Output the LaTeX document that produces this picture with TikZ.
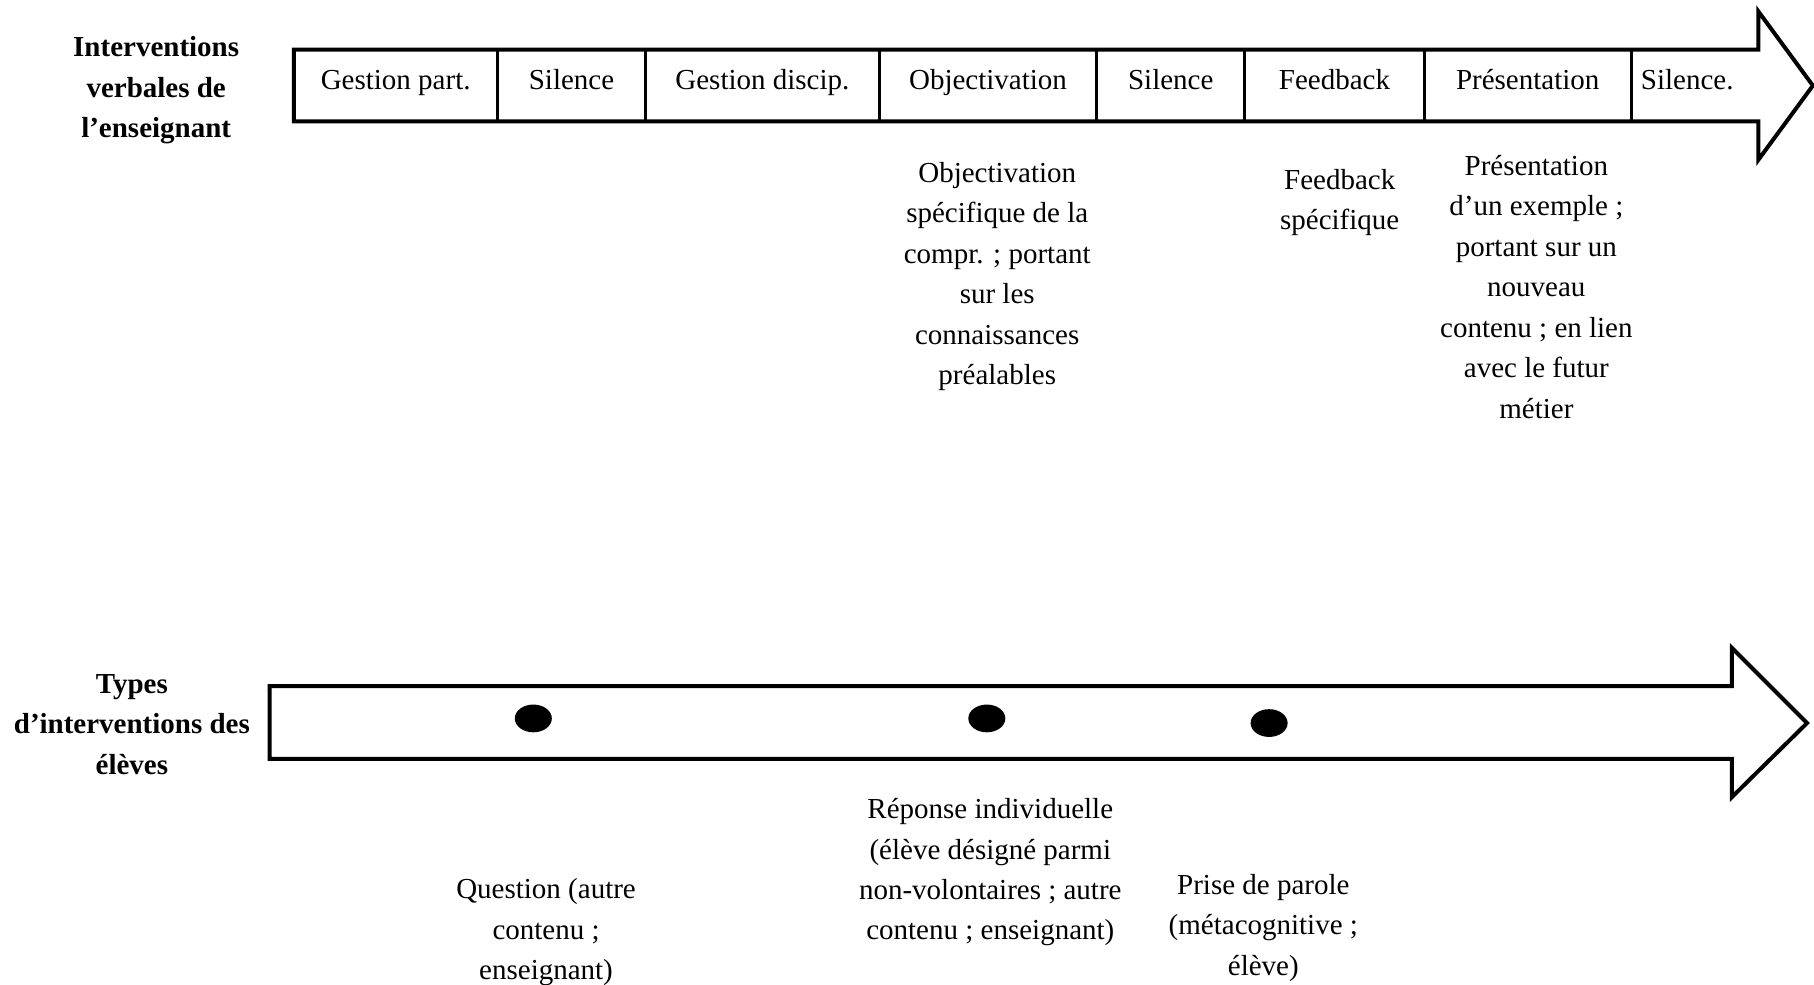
\documentclass[tikz,border=0pt]{standalone}
\usepackage{fontspec}
\setmainfont{Liberation Serif}
\usetikzlibrary{positioning,shapes.geometric}
\newcommand{\myunit}{0.5785pt}
\tikzset{
    txtsty/.style={font=\fontsize{14.5}{20.25}\selectfont,align=center,inner sep=0pt},
    headsty/.style={txtsty,font=\fontsize{14.5}{20.25}\selectfont\bfseries},
    cellsty/.style={draw,line width=1.5pt,rectangle,minimum height=62*\myunit,inner sep=0pt,outer sep=0pt,
                    text height=11.7pt,text depth=8.3pt,font=\fontsize{14.5}{20.25}\selectfont},
    arrsty/.style={draw,fill=white,line width=2pt,line join=miter},
    dotsty/.style={fill=black,ellipse,minimum width=32*\myunit,minimum height=24*\myunit,inner sep=0pt},
}

\begin{document}
\begin{tikzpicture}[x=\myunit,y=-\myunit]
  \useasboundingbox (0,0) rectangle (1568,851);

  % teacher arrow
  \draw[arrsty] (254,43) -- (1520,43) -- (1520,10) -- (1567,74) -- (1520,138) -- (1520,105) -- (254,105) -- cycle;
  \node[cellsty,minimum width=176*\myunit,anchor=west] (c1) at (254,74) {Gestion part.};
  \node[cellsty,minimum width=128*\myunit,right=0pt of c1] (c2) {Silence};
  \node[cellsty,minimum width=202*\myunit,right=0pt of c2] (c3) {Gestion discip.};
  \node[cellsty,minimum width=188*\myunit,right=0pt of c3] (c4) {Objectivation};
  \node[cellsty,minimum width=128*\myunit,right=0pt of c4] (c5) {Silence};
  \node[cellsty,minimum width=155*\myunit,right=0pt of c5] (c6) {Feedback};
  \node[cellsty,minimum width=179*\myunit,right=0pt of c6] (c7) {Présentation};
  \node[txtsty,anchor=west,text height=11.7pt,text depth=8.3pt] (c8) at (1418,74) {Silence.};

  \node[headsty] (ens) at (135,78) {Interventions\\verbales de\\l’enseignant};

  \node[txtsty] (objtxt) at (862,239) {Objectivation\\spécifique de la\\compr. ; portant\\sur les\\connaissances\\préalables};
  \node[txtsty] (fbtxt) at (1158,175) {Feedback\\spécifique};
  \node[txtsty] (prtxt) at (1328,248) {Présentation\\d’un exemple ;\\portant sur un\\nouveau\\contenu ; en lien\\avec le futur\\métier};

  % pupils arrow
  \draw[arrsty] (233,593) -- (1497,593) -- (1497,560) -- (1562,625) -- (1497,689) -- (1497,656) -- (233,656) -- cycle;
  \node[headsty] (elv) at (114,626) {Types\\d’interventions des\\élèves};

  \node[dotsty] (d1) at (461,621) {};
  \node[dotsty] (d2) at (853,621) {};
  \node[dotsty] (d3) at (1097,625) {};

  \node[txtsty] (qtxt) at (472,806) {Question (autre\\contenu ;\\enseignant)};
  \node[txtsty] (rtxt) at (856,754) {Réponse individuelle\\(élève désigné parmi\\non-volontaires ; autre\\contenu ; enseignant)};
  \node[txtsty] (ptxt) at (1092,802) {Prise de parole\\(métacognitive ;\\élève)};
\end{tikzpicture}
\end{document}
